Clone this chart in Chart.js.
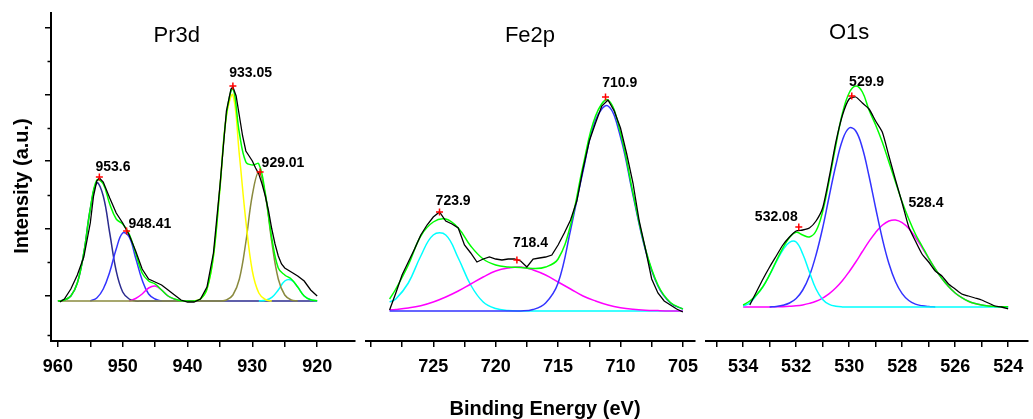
<!DOCTYPE html>
<html><head><meta charset="utf-8">
<script src="https://cdn.jsdelivr.net/npm/chart.js"></script>
<style>
html,body{margin:0;padding:0;background:#fff;}
#wrap{position:relative;width:1033px;height:419px;overflow:hidden;background:#fff;}
canvas{position:absolute;top:0;}
</style></head><body>
<div id="wrap">
<canvas id="c1" width="360" height="419" style="left:0px"></canvas>
<canvas id="c2" width="340" height="419" style="left:360px"></canvas>
<canvas id="c3" width="333" height="419" style="left:700px"></canvas>
</div>
<script>
// ---------- Panel 1 : Pr3d ----------
const p1E = [960,959,958,957,956,955,954,953,952,951,
             950,949,948,947,946,945,944,943,942,941,
             940,939,938,937,936,935,934,933,932,931,
             930,929,928,927,926,925,924,923,922,921,920];
const p1Navy = [0,1,5,18,48,92,118,105,68,30, 9,2,0,0,0,0,0,0,0,0, 0,0,0,0,0,0,0,0,0,0, 0,0,0,0,0,0,0,0,0,0, 0];
const p1Blue = [null,null,null,null,null,0,3,12,29,52, 68,64,43,21,7,2,0,null,null,null, null,null,null,null,null,null,null,null,null,null, null,null,null,null,null,null,null,null,null,null, null];
const p1Magenta = [null,null,null,null,null,null,null,null,null,null, null,0,2.5,7,13,15,11,5,1.7,0.3, 0,null,null,null,null,null,null,null,null,null, null,null,null,null,null,null,null,null,null,null, null];
const p1Yellow = [null,null,null,null,null,null,null,null,null,null, null,null,null,null,null,null,null,null,null,null, null,0,2,12,45,113,185,206,146,80, 30,8,1.5,0,null,null,null,null,null,null, null];
const p1Olive = [0,0,0,0,0,0,0,0,0,0, 0,0,0,0,0,0,0,0,0,0, 0,0,0,0,0,0,1,6,22,59, 106,129,106,59,22,6,1,0,null,null, null];
const p1Cyan = [null,null,null,null,null,null,null,null,null,null, null,null,null,null,null,null,null,null,null,null, null,null,null,null,null,null,null,null,null,null, null,0,0.7,3.6,11,20,21,14,5,1.2, 0.2];
const p1Fit = [0,1,5,18,48,92,121,117,97,82, 77,67,48,28,20,17,11,5,2,0.3, 0,0,2,12,45,113,186,212,168,139, 136,137,107.5,63,33,26,22,14,5,1.2, 0.2];
const p1ExpE = [959.7,959,958,957,956,955,954.5,954,953.6,953,952,951,950,949,948,947,946,945,944,943,942,941,940,939,938,937,936,935,934,933.3,933,932.5,932,931.5,931,930.5,930,929.5,929,928.5,928,927.5,927,926.5,926,925.5,925,924,923,922,921,920];
const p1Exp = [-1,2,12,26,44,78,105,120,123,119,103,88,78,66,50,32,22,19,16,11,6,1,-1,-1,2,14,48,115,190,212,214,205,185,165,150,145,140,133,127,117,105,90,72,57,45,37,33,29,25,20,11,5];
const p1PeakE = [953.6, 949.4, 933.0, 928.8];
const p1PeakI = [124, 70, 215, 129];
const p1Labels = ['953.6','948.41','933.05','929.01'];
const p1LabelE = [951.5, 945.8, 930.27, 925.27];
const p1LabelI = [130.3, 72.7, 223.7, 133.7];
const p1Ticks = [960,955,950,945,940,935,930,925,920];
const p1TickLabels = [960,950,940,930,920];
const p1YMajor = [273,206,140,72,5];
const p1YMinor = [240,173,106,39,-34];

// ---------- Panel 2 : Fe2p ----------
const p2E = [728.5,728,727,726,725,724,723,722,721,720,719,718,717,716,715,714,713,712,711,710,709,708,707,706,705];
const p2Cyan = [9,12,28,55,76,76,53,26,9,2.5,0.5,0,0,0,0,0,0,0,0,0,0,0,0,0,0];
const p2Magenta = [1,1.5,3,5.3,9,14,20,27,34,40,43,44,41,36,29,22,15,10,6,3.3,1.7,0.8,0.4,0.1,0];
const p2Blue = [0,0,0,0,0,0,0,0,0,0,0,0,1.5,8,28,81,140,191,205,174,116,61,25,8,2];
const p2Fit = [12,22,46,75,89,92,83,65,52,46,44,43.5,42.5,44,52,86,145,195,211,178,118,62,26,8.5,2];
const p2ExpE = [728.5,728,727.5,727,726.5,726,725.5,725,724.5,724,723.5,723,722.5,722,721.5,721,720.5,720,719.5,719,718.5,718,717.5,717,716.5,716,715.5,715,714.5,714,713.5,713,712.5,712,711.5,711,710.5,710,709.5,709,708.5,708,707.5,707,706.5,706,705.5,705];
const p2Exp = [1,18,36,49,62,76,86,94,99,90, 87,83,66,58,49,52,54,52,51,52, 52,50,44,52,53,54,56,66,78,91, 110,142,170,188,205,211,200,183,157,128, 90,62,32,18,10,6,2,-1];
const p2PeakE = [711.2, 724.5, 718.3];
const p2PeakI = [214, 99, 51];
const p2Labels = ['710.9','723.9','718.4'];
const p2LabelE = [710.06, 723.41, 717.21];
const p2LabelI = [223.7, 106, 63.7];
const p2Ticks = [730,727.5,725,722.5,720,717.5,715,712.5,710,707.5,705];
const p2TickLabels = [725,720,715,710,705];

// ---------- Panel 3 : O1s ----------
const p3E = [534,533.75,533.5,533.25,533,532.75,532.5,532.25,532,531.75,
             531.5,531.25,531,530.75,530.5,530.25,530,529.75,529.5,529.25,
             529,528.75,528.5,528.25,528,527.75,527.5,527.25,527,526.75,
             526.5,526.25,526,525.75,525.5,525.25,525,524.75,524.5,524.25,524];
const p3Cyan = [1,4,11.6,20.4,32,45,57,64.7,65,53, 35,18,7.6,2.6,0.7,0.1,0,0,0,0, 0,0,0,0,0,0,0,0,0,0, 0,0,0,0,0,0,0,0,0,0, 0];
const p3Blue = [null,null,null,null,0,0.6,1.7,4,8.5,17, 31,52,79,111,142,167,179,176,159,131, 99,68.6,43.5,25.3,13.4,6.5,2.9,1.2,0.4,0, null,null,null,null,null,null,null,null,null,null, null];
const p3Magenta = [0,0,0,0.05,0.1,0.2,0.36,0.7,1.2,2.1, 3.6,5.7,8.9,13.3,19.2,26.5,35.3,45,55.5,65.6, 74.6,81.7,86,87,84.3,78.4,69.8,59.5,48.6,38, 28.5,20.4,14,9.3,5.8,3.5,2,1.1,0.6,0.3, 0.15];
const p3Fit = [2,6,12,20.5,32.3,46,59,69.5,74.7,72, 70,76,95.5,127,162,194,214,221,215,197, 182,165,145,125,105,88,73,61,49,38, 28.5,20.4,14,9.3,5.8,3.5,2,1.1,0.6,0.3, 0.15];
const p3Exp = [null,2,15,28,40,51,62,70,76,77, 79,86,99,130,165,192,208,210,204,198, 186,175,151,127,104,80,66,53,45,36, 31,23,18,13,11,9,7,4,1,0, -2];
const p3PeakE = [529.9, 531.9];
const p3PeakI = [211, 80];
const p3Labels = ['529.9','532.08','528.4'];
const p3LabelE = [529.34, 532.75, 527.1];
const p3LabelI = [221, 85.7, 100.3];
const p3Ticks = [535,534,533,532,531,530,529,528,527,526,525,524];
const p3TickLabels = [534,532,530,528,526,524];

const titles = ['Pr3d','Fe2p','O1s'];
const titleE = [941.67, 717.25, 530.0];
const titleI = [259.5, 269, 267.7];

// ---------- helpers ----------
const FONT = "'Liberation Sans', Arial, Helvetica, sans-serif";
Chart.defaults.font.family = FONT;

function pts(xs, ys) {
  return xs.map((x, i) => ({x: x, y: ys[i]})).filter(p => p.y !== null && p.y !== undefined);
}
function curve(xs, ys, color, width, tension) {
  return {data: pts(xs, ys), borderColor: color, backgroundColor: color, borderWidth: width,
          pointRadius: 0, fill: false, tension: tension};
}
function markers(xs, ys) {
  return {data: pts(xs, ys), showLine: false, pointStyle: 'cross', pointRadius: 3.5,
          borderColor: '#ff0000', backgroundColor: '#ff0000', pointBorderWidth: 1.5};
}
function peakTexts(labels, es, is) {
  return labels.map((t, i) => ({text: t, x: es[i], y: is[i], font: 'bold 14px ' + FONT}));
}

const textPlugin = {
  id: 'panelText',
  afterDatasetsDraw(chart, args, opts) {
    const ctx = chart.ctx, xs = chart.scales.x, ys = chart.scales.y;
    (opts.items || []).forEach(it => {
      ctx.save();
      ctx.font = it.font;
      ctx.fillStyle = '#000';
      ctx.textAlign = 'center';
      ctx.textBaseline = 'alphabetic';
      const px = it.px !== undefined ? it.px : xs.getPixelForValue(it.x);
      const py = it.py !== undefined ? it.py : ys.getPixelForValue(it.y);
      ctx.translate(px, py);
      if (it.rotate) ctx.rotate(it.rotate);
      ctx.fillText(it.text, 0, 0);
      ctx.restore();
    });
  }
};
const minorTickPlugin = {
  id: 'minorTicks',
  afterDraw(chart, args, opts) {
    if (!opts.values) return;
    const ys = chart.scales.y, ctx = chart.ctx;
    ctx.save();
    ctx.strokeStyle = '#000';
    ctx.lineWidth = 1.5;
    opts.values.forEach(v => {
      const py = Math.round(ys.getPixelForValue(v)) + 0.5;
      ctx.beginPath();
      ctx.moveTo(ys.right - 3.5, py);
      ctx.lineTo(ys.right, py);
      ctx.stroke();
    });
    ctx.restore();
  }
};

function makePanel(id, cfg) {
  return new Chart(document.getElementById(id), {
    type: 'line',
    data: {datasets: cfg.datasets},
    options: {
      responsive: false, animation: false, devicePixelRatio: 1,
      layout: {padding: {top: 13, left: 0, right: 0, bottom: 0}},
      plugins: {legend: {display: false}, tooltip: {enabled: false},
                panelText: {items: cfg.texts}, minorTicks: cfg.minor || {}},
      scales: {
        x: {type: 'linear', reverse: true, min: cfg.xMin, max: cfg.xMax,
            afterFit: s => { s.height = 78; s.paddingLeft = 0; s.paddingRight = 0; },
            afterBuildTicks: s => { s.ticks = cfg.xTicks.map(v => ({value: v})); },
            ticks: {autoSkip: false, maxRotation: 0, minRotation: 0, padding: 9, color: '#000',
                    font: {size: 18, weight: 'bold'},
                    callback: v => cfg.xLabels.includes(v) ? String(v) : ''},
            grid: {drawOnChartArea: false, drawTicks: true, tickLength: 6, color: '#000', lineWidth: 1.5},
            border: {display: true, color: '#000', width: 2}},
        y: {type: 'linear', display: cfg.showY, min: cfg.yMin, max: cfg.yMax,
            afterFit: s => { s.width = cfg.showY ? 51 : 0; s.paddingTop = 0; s.paddingBottom = 0; },
            afterBuildTicks: s => { s.ticks = (cfg.yTicks || []).map(v => ({value: v})); },
            ticks: {display: false},
            grid: {drawOnChartArea: false, drawTicks: true, tickLength: 6, color: '#000', lineWidth: 1.5},
            border: {display: true, color: '#000', width: 2}}
      }
    },
    plugins: [textPlugin, minorTickPlugin]
  });
}

const T = 0.4; // smoothing of fitted curves

// Panel 1
makePanel('c1', {
  xMin: 914.24, xMax: 961.06, yMin: -40, yMax: 288, showY: true,
  xTicks: p1Ticks, xLabels: p1TickLabels, yTicks: p1YMajor, minor: {values: p1YMinor},
  datasets: [
    markers(p1PeakE, p1PeakI),
    curve(p1ExpE, p1Exp, '#000000', 1.3, 0),
    curve(p1E, p1Fit, '#00ff00', 1.5, T),
    curve(p1E, p1Yellow, '#ffff00', 1.5, T),
    curve(p1E, p1Olive, '#8a8a3e', 1.5, T),
    curve(p1E, p1Cyan, '#00ffff', 1.5, T),
    curve(p1E, p1Magenta, '#ff00ff', 1.5, T),
    curve(p1E, p1Blue, '#3333ff', 1.5, T),
    curve(p1E, p1Navy, '#2b2b8f', 1.5, T)
  ],
  texts: peakTexts(p1Labels, p1LabelE, p1LabelI).concat([
    {text: titles[0], x: titleE[0], y: titleI[0], font: '22px ' + FONT},
    {text: 'Intensity (a.u.)', px: 28.3, py: 186, rotate: -Math.PI / 2, font: 'bold 20px ' + FONT}
  ])
});

// Panel 2
makePanel('c2', {
  xMin: 704.07, xMax: 730.43, yMin: -30, yMax: 298, showY: false,
  xTicks: p2Ticks, xLabels: p2TickLabels,
  datasets: [
    markers(p2PeakE, p2PeakI),
    curve(p2ExpE, p2Exp, '#000000', 1.3, 0),
    curve(p2E, p2Fit, '#00ff00', 1.5, T),
    curve(p2E, p2Blue, '#3333ff', 1.5, T),
    curve(p2E, p2Magenta, '#ff00ff', 1.5, T),
    curve(p2E, p2Cyan, '#00ffff', 1.5, T)
  ],
  texts: peakTexts(p2Labels, p2LabelE, p2LabelI).concat([
    {text: titles[1], x: titleE[1], y: titleI[1], font: '22px ' + FONT},
    {text: 'Binding Energy (eV)', px: 185, py: 415, font: 'bold 20px ' + FONT}
  ])
});

// Panel 3
makePanel('c3', {
  xMin: 523.27, xMax: 535.42, yMin: -34, yMax: 294, showY: false,
  xTicks: p3Ticks, xLabels: p3TickLabels,
  datasets: [
    markers(p3PeakE, p3PeakI),
    curve(p3E, p3Exp, '#000000', 1.3, 0.2),
    curve(p3E, p3Fit, '#00ff00', 1.5, T),
    curve(p3E, p3Cyan, '#00ffff', 1.5, T),
    curve(p3E, p3Blue, '#3333ff', 1.5, T),
    curve(p3E, p3Magenta, '#ff00ff', 1.5, T)
  ],
  texts: peakTexts(p3Labels, p3LabelE, p3LabelI).concat([
    {text: titles[2], x: titleE[2], y: titleI[2], font: '22px ' + FONT}
  ])
});
</script>
</body></html>
